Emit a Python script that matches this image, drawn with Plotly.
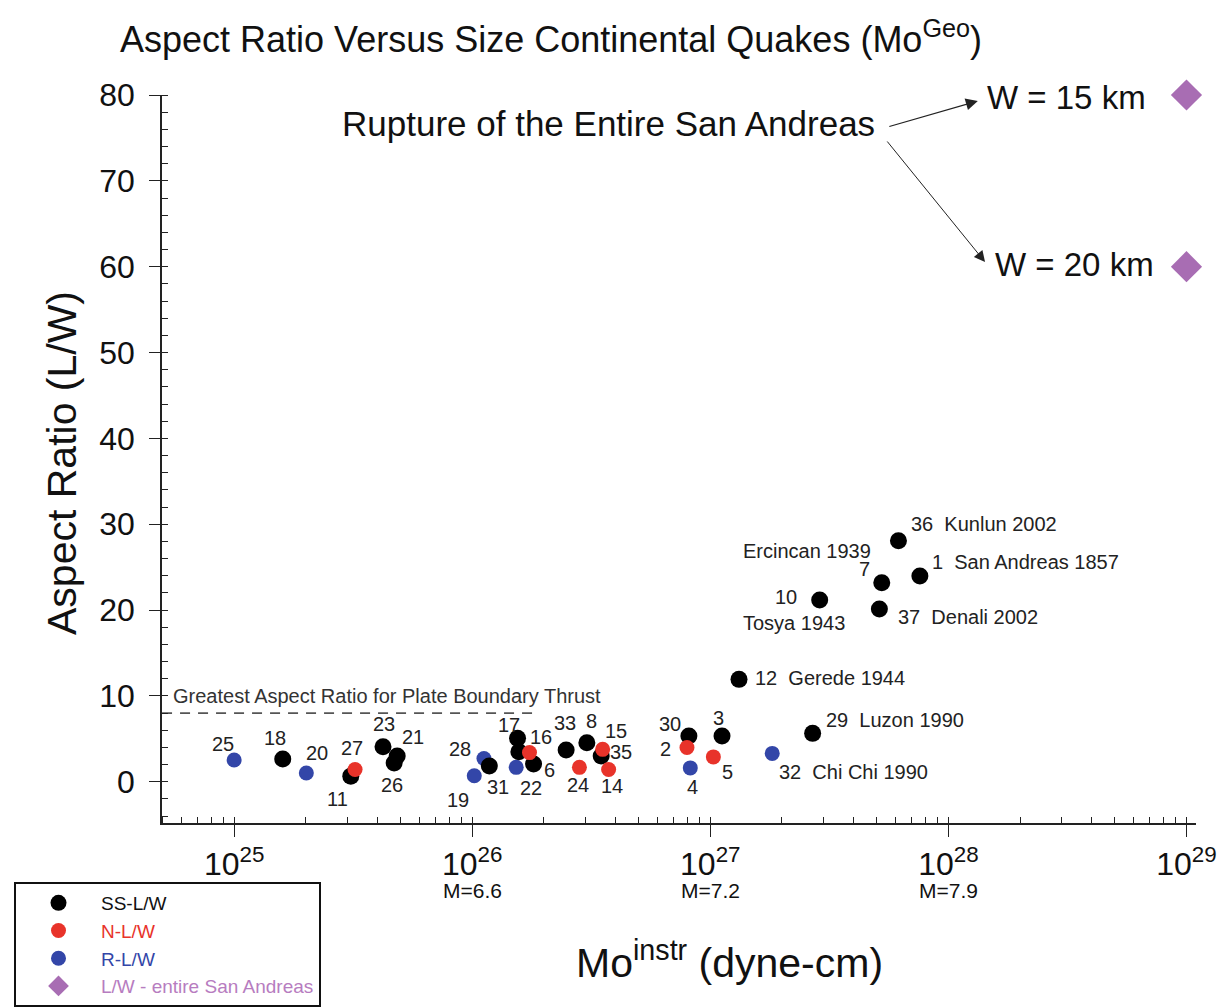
import math
import plotly.graph_objects as go

FONT = "Liberation Sans, Arial, Helvetica, sans-serif"

# ---------------- data ----------------
# strike-slip (SS) events
ss_id = ["18", "11", "23", "21", "26", "31", "17", "", "6", "33", "8", "35",
         "30", "3", "12", "29", "10", "37", "7", "36", "1"]
ss_mo = [1.60e25, 3.09e25, 4.22e25, 4.84e25, 4.70e25, 1.18e26, 1.55e26, 1.57e26,
         1.81e26, 2.48e26, 3.03e26, 3.48e26, 8.13e26, 1.12e27, 1.32e27, 2.69e27,
         2.88e27, 5.13e27, 5.25e27, 6.17e27, 7.59e27]
ss_ar = [2.65, 0.66, 4.08, 3.0, 2.18, 1.83, 5.06, 3.5, 2.06, 3.69, 4.55, 3.0,
         5.33, 5.33, 11.93, 5.64, 21.18, 20.13, 23.19, 28.09, 23.97]

# normal (N) events
n_id = ["27", "16", "24", "15", "14", "2", "5"]
n_mo = [3.22e25, 1.74e26, 2.82e26, 3.53e26, 3.74e26, 7.98e26, 1.03e27]
n_ar = [1.44, 3.40, 1.68, 3.78, 1.44, 4.0, 2.9]

# reverse (R) events
r_id = ["25", "20", "19", "28", "22", "4", "32"]
r_mo = [1.0e25, 2.01e25, 1.02e26, 1.12e26, 1.53e26, 8.24e26, 1.82e27]
r_ar = [2.53, 1.02, 0.70, 2.71, 1.68, 1.62, 3.31]

# entire San Andreas rupture
sa_mo = [1e29, 1e29]
sa_ar = [80, 60]

# greatest aspect ratio for plate boundary thrust
thrust_mo = [4.98e24, 1.84e26]
thrust_ar = [8, 8]

x_tickvals = [1e25, 1e26, 1e27, 1e28, 1e29]
x_ticktext = ["10<sup>25</sup>", "10<sup>26</sup>", "10<sup>27</sup>",
              "10<sup>28</sup>", "10<sup>29</sup>"]
mag_mo = [1e26, 1e27, 1e28]
mag_text = ["M=6.6", "M=7.2", "M=7.9"]
y_tickvals = [0, 10, 20, 30, 40, 50, 60, 70, 80]

event_names = {"36": "Kunlun 2002", "1": "San Andreas 1857", "37": "Denali 2002",
               "12": "Gerede 1944", "29": "Luzon 1990", "32": "Chi Chi 1990",
               "10": "Tosya 1943", "7": "Ercincan 1939"}

# ---------------- label placement (pixel offsets, y down) ----------------
LABEL_POS = {
    "25": (-11, -16, "center"), "20": (11, -20, "center"), "19": (-16, 24, "center"),
    "28": (-24, -10, "center"), "22": (15, 21, "center"), "4": (2, 19, "center"),
    "32": (5, 19, "left"),
    "18": (-8, -21, "center"), "11": (-13, 23, "center"), "23": (1, -23, "center"),
    "21": (16, -19, "center"), "26": (-2, 22, "center"), "31": (9, 21, "center"),
    "17": (-9, -13, "center"), "6": (16, 6, "center"), "33": (-1, -27, "center"),
    "8": (5, -22, "center"), "35": (20, -4, "center"), "30": (-19, -12, "center"),
    "3": (-4, -18, "center"), "12": (14, -1, "left"), "29": (11, -13, "left"),
    "10": (-21, -3, "right"), "37": (17, 8, "left"), "7": (-17, -14, "center"),
    "36": (11, -17, "left"), "1": (10, -14, "left"),
    "27": (-3, -21, "center"), "16": (12, -16, "center"), "24": (-1, 18, "center"),
    "15": (13, -18, "center"), "14": (3, 17, "center"), "2": (-21, 2, "center"),
    "5": (14, 15, "center"),
}
INLINE_NAMES = {"36", "1", "37", "12", "29", "32"}
SEPARATE_NAME_POS = {"10": (-79, 23, "left"), "7": (-9, -32, "right")}

BLACK = "#000000"
RED = "#e8332a"
BLUE = "#3346a8"
PURPLE = "#a86db3"

fig = go.Figure()

fig.add_trace(go.Scatter(
    x=thrust_mo, y=thrust_ar, mode="lines", showlegend=False, hoverinfo="skip",
    line=dict(color="#555555", width=1.6, dash="10px,8px")))

fig.add_trace(go.Scatter(
    x=r_mo, y=r_ar, mode="markers", name=f'<span style="color:{BLUE}">R-L/W</span>',
    marker=dict(color=BLUE, size=15, line=dict(width=0)), legendrank=3, cliponaxis=False))
fig.add_trace(go.Scatter(
    x=ss_mo, y=ss_ar, mode="markers", name="SS-L/W",
    marker=dict(color=BLACK, size=17, line=dict(width=0)), legendrank=1, cliponaxis=False))
fig.add_trace(go.Scatter(
    x=n_mo, y=n_ar, mode="markers", name=f'<span style="color:{RED}">N-L/W</span>',
    marker=dict(color=RED, size=15, line=dict(width=0)), legendrank=2, cliponaxis=False))
fig.add_trace(go.Scatter(
    x=sa_mo, y=sa_ar, mode="markers",
    name='<span style="color:#b77cc0">L/W - entire San Andreas</span>',
    marker=dict(color=PURPLE, size=24, symbol="diamond", line=dict(width=0)),
    legendrank=4, cliponaxis=False))

annotations = []
lab_font = dict(family=FONT, size=20, color="#222222")


def add_labels(ids, mos, ars):
    for pid, mo, ar in zip(ids, mos, ars):
        if not pid:
            continue
        dx, dy, anchor = LABEL_POS[pid]
        text = pid
        if pid in INLINE_NAMES:
            text = f"{pid}&nbsp; {event_names[pid]}"
        annotations.append(dict(
            x=math.log10(mo), y=ar, xref="x", yref="y", text=text, showarrow=False,
            xshift=dx, yshift=-dy, xanchor=anchor, yanchor="middle", font=lab_font))
        if pid in SEPARATE_NAME_POS:
            ndx, ndy, nanchor = SEPARATE_NAME_POS[pid]
            annotations.append(dict(
                x=math.log10(mo), y=ar, xref="x", yref="y", text=event_names[pid],
                showarrow=False, xshift=ndx, yshift=-ndy, xanchor=nanchor,
                yanchor="middle", font=lab_font))


add_labels(ss_id, ss_mo, ss_ar)
add_labels(n_id, n_mo, n_ar)
add_labels(r_id, r_mo, r_ar)

# magnitude labels under the x ticks
for mo, txt in zip(mag_mo, mag_text):
    annotations.append(dict(
        x=math.log10(mo), y=-0.093, xref="x", yref="paper", text=txt, showarrow=False,
        xanchor="center", yanchor="middle", font=dict(family=FONT, size=21, color="#111111")))

# thrust line label
annotations.append(dict(
    x=24.735, y=10, xref="x", yref="y", text="Greatest Aspect Ratio for Plate Boundary Thrust",
    showarrow=False, xanchor="left", yanchor="middle",
    font=dict(family=FONT, size=20, color="#333333")))

# titles
annotations.append(dict(
    x=0.376, y=1.08, xref="paper", yref="paper",
    text="Aspect Ratio Versus Size Continental Quakes (Mo<sup>Geo</sup>)",
    showarrow=False, xanchor="center", yanchor="middle",
    font=dict(family=FONT, size=36, color="#111111")))
annotations.append(dict(
    x=0.549, y=-0.188, xref="paper", yref="paper",
    text="Mo<sup>instr</sup> (dyne-cm)", showarrow=False, xanchor="center",
    yanchor="middle", font=dict(family=FONT, size=41, color="#111111")))
annotations.append(dict(
    x=-0.0967, y=0.4945, xref="paper", yref="paper", text="Aspect Ratio (L/W)",
    showarrow=False, textangle=-90, xanchor="center", yanchor="middle",
    font=dict(family=FONT, size=41, color="#111111")))

# San Andreas rupture annotations
annotations.append(dict(
    x=0.432, y=0.9615, xref="paper", yref="paper", text="Rupture of the Entire San Andreas",
    showarrow=False, xanchor="center", yanchor="middle",
    font=dict(family=FONT, size=35, color="#111111")))
annotations.append(dict(
    x=0.796, y=0.997, xref="paper", yref="paper", text="W = 15 km",
    showarrow=False, xanchor="left", yanchor="middle",
    font=dict(family=FONT, size=33, color="#111111")))
annotations.append(dict(
    x=0.8037, y=0.7665, xref="paper", yref="paper", text="W = 20 km",
    showarrow=False, xanchor="left", yanchor="middle",
    font=dict(family=FONT, size=33, color="#111111")))
annotations.append(dict(
    x=0.789, y=0.9918, xref="paper", yref="paper", text="", showarrow=True,
    ax=-90, ay=26, arrowhead=2, arrowsize=2.0, arrowwidth=1.2, arrowcolor="#222222"))
annotations.append(dict(
    x=0.796, y=0.7706, xref="paper", yref="paper", text="", showarrow=True,
    ax=-99, ay=-122, arrowhead=2, arrowsize=2.2, arrowwidth=1.0, arrowcolor="#222222"))

fig.update_layout(
    width=1223, height=1007,
    margin=dict(l=162, r=27, t=95, b=184, pad=0, autoexpand=False),
    paper_bgcolor="white", plot_bgcolor="white",
    font=dict(family=FONT, color="#111111"),
    annotations=annotations,
    showlegend=True,
    legend=dict(
        xref="container", yref="container",
        x=14 / 1223, y=(1007 - 882) / 1007, xanchor="left", yanchor="top",
        bgcolor="white", bordercolor="#111111", borderwidth=2,
        font=dict(family=FONT, size=19, color="#111111"),
        tracegroupgap=0, itemsizing="trace", itemwidth=75),
    xaxis=dict(
        type="log", range=[24.697, 29.04],
        tickmode="array", tickvals=x_tickvals, ticktext=x_ticktext,
        ticks="outside", ticklen=12, tickwidth=1.2, tickcolor="#222222",
        showline=True, linecolor="#222222", linewidth=1.5,
        showgrid=False, zeroline=False,
        tickfont=dict(family=FONT, size=32, color="#111111"),
        minor=dict(ticks="inside", ticklen=6, tickwidth=1, tickcolor="#222222",
                   dtick="D1", showgrid=False),
    ),
    yaxis=dict(
        range=[-4.8, 80],
        tickmode="array", tickvals=y_tickvals,
        ticks="outside", ticklen=11, tickwidth=1.2, tickcolor="#222222",
        showline=True, linecolor="#222222", linewidth=1.5,
        showgrid=False, zeroline=False, ticklabelstandoff=8,
        tickfont=dict(family=FONT, size=32, color="#111111"),
        minor=dict(ticks="inside", ticklen=6, tickwidth=1, tickcolor="#222222",
                   dtick=2, tick0=0, showgrid=False),
    ),
)

fig.write_html("out.html")
